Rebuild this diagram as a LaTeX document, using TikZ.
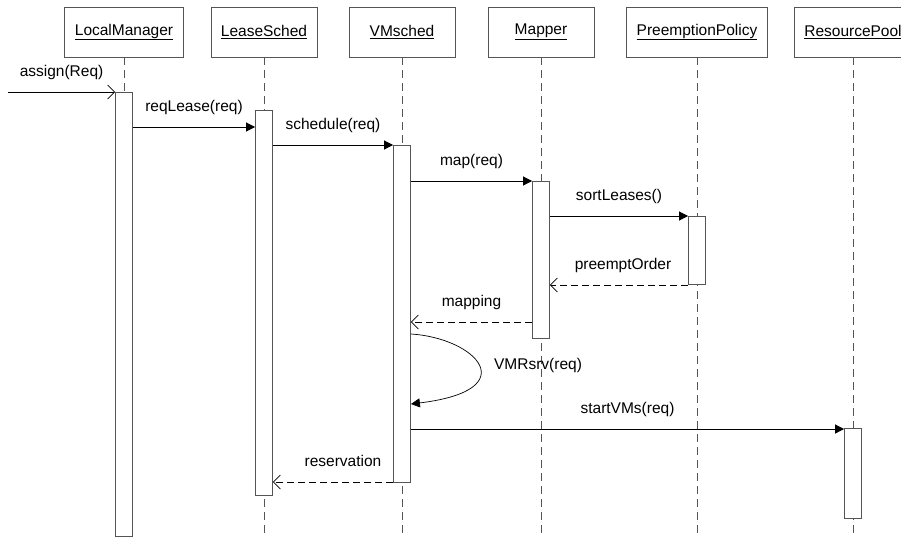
\documentclass[tikz,border=0pt]{standalone}
\usepackage{fontspec}
\setmainfont{Liberation Sans}
\usepackage{tikz}
\usetikzlibrary{arrows.meta,positioning,calc}
\definecolor{SeqGray}{HTML}{555555}

\begin{document}
\begin{tikzpicture}[
        x=1pt, y=-1pt,
        font=\fontsize{15.5}{18}\selectfont,
        head/.style={draw=SeqGray, fill=white, line width=0.8pt, minimum width=106pt,
          minimum height=50pt, inner xsep=10pt},
        act/.style={draw=SeqGray, fill=white, line width=0.8pt, minimum width=17pt,
          inner sep=0pt, anchor=north},
        life/.style={draw=SeqGray, line width=0.8pt, dash pattern=on 8pt off 5pt},
        call/.style={-{Triangle[length=9pt, width=9pt]}, line width=0.7pt},
        ret/.style={-{Straight Barb[length=7pt, width=14pt]}, line width=0.7pt,
          dash pattern=on 7pt off 4pt},
        lbl/.style={anchor=base, yshift=16pt, inner sep=0pt}
      ]
        \useasboundingbox (0,0) rectangle (901,536);
        \clip (0,0) rectangle (901,536);
        \coordinate (bot) at (0,536);
        \coordinate (src) at (8,92);
        \coordinate (m1) at (0,127);
        \coordinate (m2) at (0,145);
        \coordinate (m3) at (0,181);
        \coordinate (m4) at (0,216);
        \coordinate (m5) at (0,285);
        \coordinate (m6) at (0,322);
        \coordinate (m7) at (0,334);
        \coordinate (m8) at (0,404);
        \coordinate (m9) at (0,429);
        \coordinate (m10) at (0,482);
        \node[head] (lm) at (124,32) {\underline{LocalManager}};
        \node[head] (ls) at (264,32) {\underline{LeaseSched}};
        \node[head] (vm) at (402,32) {\underline{VMsched}};
        \node[head] (mp) at (541,32) {\underline{Mapper}};
        \node[head] (pp) at (697,32) {\underline{PreemptionPolicy}};
        \node[head] (rp) at (853,32) {\underline{ResourcePool}};
        \foreach \n in {lm,ls,vm,mp,pp,rp}
          \draw[life] (\n.south) -- (\n.south |- bot);
        \node[act, minimum height=444pt] (lmA) at (lm.south |- src) {};
        \node[act, minimum height=385pt] (lsA) at ($(ls.south |- m1)+(0,-17)$) {};
        \node[act, minimum height=337pt] (vmA) at (vm.south |- m2) {};
        \node[act, minimum height=157pt] (mpA) at (mp.south |- m3) {};
        \node[act, minimum height=68pt] (ppA) at (pp.south |- m4) {};
        \node[act, minimum height=90pt] (rpA) at ($(rp.south |- m9)+(0,-1)$) {};
        \draw[ret, dash pattern=] (src) -- (lmA.west |- src)
          node[lbl, midway] {assign(Req)};
        \draw[call] (lmA.east |- m1) -- (lsA.west |- m1)
          node[lbl, midway] {reqLease(req)};
        \draw[call] (lsA.east |- m2) -- (vmA.west |- m2)
          node[lbl, midway] {schedule(req)};
        \draw[call] (vmA.east |- m3) -- (mpA.west |- m3)
          node[lbl, midway] {map(req)};
        \draw[call] (mpA.east |- m4) -- (ppA.west |- m4)
          node[lbl, midway] {sortLeases()};
        \draw[ret] (ppA.west |- m5) -- (mpA.east |- m5)
          node[lbl, midway, xshift=4pt] {preemptOrder};
        \draw[ret] (mpA.west |- m6) -- (vmA.east |- m6)
          node[lbl, midway] {mapping};
        \draw[call] (vmA.east |- m7) .. controls ($(vmA.east |- m7)+(65,4)$)
          and ($(vmA.east |- m8)+(115,-14)$) .. (vmA.east |- m8)
          node[pos=0.5, anchor=west, xshift=12pt] {VMRsrv(req)};
        \draw[call] (vmA.east |- m9) -- (rpA.west |- m9)
          node[lbl, midway] {startVMs(req)};
        \draw[ret] (vmA.west |- m10) -- (lsA.east |- m10)
          node[lbl, midway, xshift=10pt] {reservation};
      \end{tikzpicture}
\end{document}
